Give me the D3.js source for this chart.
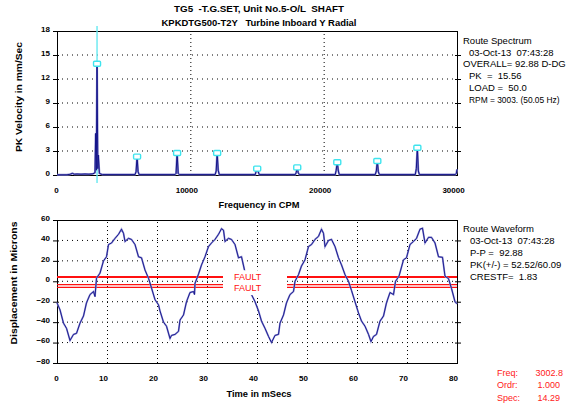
<!DOCTYPE html>
<html>
<head>
<meta charset="utf-8">
<script src="https://cdn.jsdelivr.net/npm/d3@7"></script>
<style>
  body { margin: 0; background: #fff; }
  text { font-family: "Liberation Sans", Arial, sans-serif; }
</style>
</head>
<body>
<div id="target"></div>
<script>
// ---- data ----
const titleLines = ['TG5  -T.G.SET, Unit No.5-O/L  SHAFT', 'KPKDTG500-T2Y   Turbine Inboard Y Radial'];

const specTicksY = [0, 3, 6, 9, 12, 15, 18];
const specTicksX = [0, 10000, 20000, 30000];
const specCpm = [0, 750, 1000, 1150, 1300, 1500, 1800, 2100, 2400, 2700, 2850, 2900, 2950, 3003, 3060, 3100, 3180, 3400,
  5850, 5930, 6006, 6080, 6160,
  8850, 8930, 9009, 9090, 9170,
  11860, 11940, 12012, 12090, 12170,
  14870, 14940, 15015, 15090, 15170,
  17870, 17940, 18018, 18090, 18170,
  20870, 20940, 21021, 21100, 21170,
  23870, 23950, 24024, 24100, 24180,
  26870, 26950, 27027, 27100, 27180,
  29870, 29950, 30000];
const specAmp = [0.02, 0.02, 0.1, 0.2, 0.1, 0.12, 0.1, 0.12, 0.1, 0.15, 0.3, 5.2, 0.6, 13.9, 0.8, 2.5, 0.2, 0.05,
  0.05, 0.4, 2.3, 0.4, 0.05,
  0.05, 0.2, 2.75, 0.2, 0.05,
  0.05, 0.5, 2.75, 0.6, 0.05,
  0.05, 0.5, 0.8, 0.4, 0.05,
  0.05, 0.3, 0.95, 0.3, 0.05,
  0.05, 0.6, 1.6, 0.5, 0.05,
  0.05, 0.5, 1.75, 0.4, 0.05,
  0.05, 0.8, 3.4, 0.5, 0.05,
  0.05, 0.2, 0.7];
const peakCpm = [3003, 6006, 9009, 12012, 15015, 18018, 21021, 24024, 27027];
const peakAmp = [13.9, 2.3, 2.75, 2.75, 0.8, 0.95, 1.6, 1.75, 3.4];
const cursorCpm = 3002.8;

const waveTicksY = [-80, -60, -40, -20, 0, 20, 40, 60];
const waveTicksX = [0, 10, 20, 30, 40, 50, 60, 70, 80];
const waveTime = [0, 0.6, 1.3, 1.9, 2.6, 3.3, 3.9, 4.6, 5.3, 5.9, 6.6, 7.3, 7.6, 7.9, 8.6, 9.3, 9.9, 10.3, 10.9, 11.6,
  12.3, 12.9, 13.3, 13.6, 14.3, 14.9, 15.6, 16.3, 16.9, 17.6, 18.3, 18.9, 19.6,
  20.3, 20.6, 21.3, 21.9, 22.6, 22.9, 23.6, 24.3, 24.6, 25.3, 25.9, 26.6, 27.3, 27.5, 27.6, 28.3, 28.9, 29.6,
  30.3, 30.9, 31.6, 32.3, 32.9, 33.3, 33.6, 34.3, 34.9, 35.6, 36.3, 36.9, 37.5, 38.2, 38.9, 39.6,
  40.3, 40.9, 41.6, 42.3, 42.9, 43.6, 44.3, 44.6, 45.3, 45.9, 46.6, 47.3, 47.6, 48.3, 48.9, 49.6,
  50.3, 50.9, 51.6, 52.3, 52.9, 53.3, 53.6, 54.3, 54.9, 55.6, 56.3, 56.9, 57.6, 58.3, 58.9, 59.6,
  60.3, 60.9, 61.6, 62.3, 62.8, 63.3, 63.9, 64.6, 65.3, 65.9, 66.6, 67.3, 67.7, 68.4, 69.3, 69.9,
  70.6, 71.3, 71.9, 72.6, 73.1, 73.6, 74.3, 74.9, 75.6, 76.3, 77.1, 77.6, 78.3, 78.9, 79.6, 80];
const waveDisp = [-21, -28, -41, -46, -58, -52, -51, -41, -34, -21, -13, -10, -15, 3, 8, 20, 24, 36, 37.5, 42,
  46, 51, 47, 39, 42, 41, 36, 24, 23, 11, 3, -6.5, -18,
  -23, -29, -40, -44, -56, -53, -52, -49, -38, -33, -20, -11, -10, -13, -2, 7, 16, 24,
  34, 37.5, 41, 46, 51.5, 50, 39, 42, 41, 36, 23, 24, 11, 0, -13, -20,
  -29, -39, -46, -54, -60, -53, -52, -41, -33, -21, -13, -10, 0, 6.5, 15, 21,
  34, 36, 41, 44, 51, 47, 34, 40, 41, 34, 23, 16, 6.5, 0, -9, -20,
  -31, -39, -44, -52, -59, -54, -52, -39, -34, -21, -11, -13, 0, 5, 21, 23,
  36, 39, 42, 51, 52, 37.5, 43, 43, 37.5, 24, 23.5, 5, 2.6, -7, -20, -22];
const faultUpper = [4.2];
const faultLower = [-3.3, -6.0];
const faultBox = [33.2, 46];

const specInfo = ['Route Spectrum', '03-Oct-13  07:43:28', 'OVERALL= 92.88 D-DG', 'PK  =  15.56', 'LOAD =  50.0', 'RPM = 3003. (50.05 Hz)'];
const specIndent = [0, 1, 0, 1, 1, 1];
const waveInfo = ['Route Waveform', '03-Oct-13  07:43:28', 'P-P =  92.88', 'PK(+/-) = 52.52/60.09', 'CRESTF=  1.83'];
const waveIndent = [0, 1, 1, 1, 1];
const cursorNames = ['Freq:', 'Ordr:', 'Spec:'];
const cursorValues = ['3002.8', '1.000', '14.29'];

// ---- layout ----
const width = 567;
const height = 403;

const svg = d3.select('#target')
  .append('svg')
  .attr('width', width)
  .attr('height', height);

const xF = d3.scaleLinear().domain([0, 30000]).range([57, 457]);
const yF = d3.scaleLinear().domain([0, 18]).range([175, 31]);
const xT = d3.scaleLinear().domain([0, 80]).range([57, 457]);
const yT = d3.scaleLinear().domain([-80, 60]).range([363, 220]);

svg.selectAll('.title')
  .data(titleLines)
  .enter()
  .append('text')
  .attr('class', 'title')
  .attr('x', 259)
  .attr('y', (d, i) => 12 + i * 14)
  .attr('text-anchor', 'middle')
  .attr('font-size', 8.5)
  .attr('font-weight', 'bold')
  .attr('textLength', (d, i) => i === 0 ? 170 : 195)
  .attr('lengthAdjust', 'spacingAndGlyphs')
  .attr('xml:space', 'preserve')
  .text((d) => d);

function grid(g, x, y, xs, ys) {
  const [x0, x1] = x.range();
  const [y0, y1] = y.range();
  g.selectAll('.hgrid')
    .data(ys.slice(1, -1))
    .enter()
    .append('line')
    .attr('x1', x0).attr('x2', x1)
    .attr('y1', (d) => y(d)).attr('y2', (d) => y(d))
    .attr('stroke', '#000')
    .attr('stroke-dasharray', '1,4');
  g.selectAll('.vgrid')
    .data(xs.slice(1, -1))
    .enter()
    .append('line')
    .attr('x1', (d) => x(d) + 0.5).attr('x2', (d) => x(d) + 0.5)
    .attr('y1', y0).attr('y2', y1)
    .attr('stroke', '#000')
    .attr('stroke-dasharray', '1,3');
}

function axes(g, x, y, xs, ys, fmt) {
  const [x0, x1] = x.range();
  const [y0, y1] = y.range();
  const left = g.append('g')
    .attr('transform', `translate(${x0},0)`)
    .call(d3.axisLeft(y).tickValues(ys).tickSizeInner(4).tickSizeOuter(0).tickPadding(3));
  const right = g.append('g')
    .attr('transform', `translate(${x1},0)`)
    .call(d3.axisRight(y).tickValues(ys.slice(1, -1)).tickSizeInner(4).tickSizeOuter(0).tickFormat(''));
  const bottom = g.append('g')
    .attr('transform', `translate(0,${y0})`)
    .call(d3.axisBottom(x).tickValues(xs).tickSize(0).tickPadding(12).tickFormat(fmt));
  [left, right, bottom].forEach((a) => {
    a.select('.domain').remove();
    a.selectAll('text')
      .attr('font-family', '"Liberation Sans", Arial, sans-serif')
      .attr('font-size', 8)
      .attr('font-weight', 'bold')
      .attr('fill', '#000');
  });
  left.selectAll('text').attr('dy', '0.05em');
  left.selectAll('line').attr('x2', -4).attr('x1', 2);
  right.selectAll('line').attr('x1', -2);
  bottom.selectAll('text').attr('dx', (d) => d === 0 ? -1 : -4);
  g.append('rect')
    .attr('x', x0 + 0.5).attr('y', y1 + 0.5)
    .attr('width', x1 - x0).attr('height', y0 - y1)
    .attr('fill', 'none')
    .attr('stroke', '#000');
}

// ---- spectrum ----
const specG = svg.append('g');
grid(specG, xF, yF, specTicksX, specTicksY);
axes(specG, xF, yF, specTicksX, specTicksY, d3.format('d'));

specG.append('line')
  .attr('x1', xF(cursorCpm)).attr('x2', xF(cursorCpm))
  .attr('y1', 26).attr('y2', 183)
  .attr('stroke', '#66e8f0')
  .attr('stroke-width', 1.4);

const spectrum = specCpm.map((c, i) => [c, specAmp[i]]);
const specLine = d3.line()
  .x((d) => xF(d[0]))
  .y((d) => yF(d[1]));

specG.append('path')
  .datum(spectrum)
  .attr('d', specLine)
  .attr('fill', 'none')
  .attr('stroke', '#8888cc')
  .attr('stroke-width', 2);
specG.append('path')
  .datum(spectrum)
  .attr('d', specLine)
  .attr('fill', 'none')
  .attr('stroke', '#14148a')
  .attr('stroke-width', 1);

specG.selectAll('.peak')
  .data(peakCpm)
  .enter()
  .append('rect')
  .attr('class', 'peak')
  .attr('x', (d) => xF(d) - 3.5)
  .attr('y', (d, i) => yF(peakAmp[i]) - 2.5)
  .attr('width', 7)
  .attr('height', 5)
  .attr('rx', 1)
  .attr('fill', '#fff')
  .attr('stroke', '#3ee4ee')
  .attr('stroke-width', 1.4);

specG.append('text')
  .attr('x', 259).attr('y', 208)
  .attr('text-anchor', 'middle')
  .attr('font-size', 9)
  .attr('font-weight', 'bold')
  .attr('textLength', 81)
  .attr('lengthAdjust', 'spacingAndGlyphs')
  .text('Frequency in CPM');

specG.append('text')
  .attr('transform', 'translate(18,97) rotate(-90)')
  .attr('text-anchor', 'middle')
  .attr('dominant-baseline', 'central')
  .attr('font-size', 9.5)
  .attr('font-weight', 'bold')
  .attr('textLength', 110)
  .attr('lengthAdjust', 'spacingAndGlyphs')
  .text('PK Velocity in mm/Sec');

// ---- waveform ----
const waveG = svg.append('g');
grid(waveG, xT, yT, waveTicksX, waveTicksY);
axes(waveG, xT, yT, waveTicksX, waveTicksY, d3.format('d'));

const faults = waveG.append('g');
faults.selectAll('.fu')
  .data(faultUpper)
  .enter()
  .append('line')
  .attr('x1', xT(0)).attr('x2', xT(80))
  .attr('y1', (d) => yT(d)).attr('y2', (d) => yT(d))
  .attr('stroke', '#ff1010')
  .attr('stroke-width', 2);
faults.selectAll('.fl')
  .data(faultLower)
  .enter()
  .append('line')
  .attr('x1', xT(0)).attr('x2', xT(80))
  .attr('y1', (d) => yT(d)).attr('y2', (d) => yT(d))
  .attr('stroke', '#ff1010')
  .attr('stroke-width', 1.2);

const wave = waveTime.map((t, i) => [t, waveDisp[i]]);
const waveLine = d3.line()
  .x((d) => xT(d[0]))
  .y((d) => yT(d[1]));

waveG.append('path')
  .datum(wave)
  .attr('d', waveLine)
  .attr('fill', 'none')
  .attr('stroke', '#9393d4')
  .attr('stroke-width', 1.8);
waveG.append('path')
  .datum(wave)
  .attr('d', waveLine)
  .attr('fill', 'none')
  .attr('stroke', '#12128a')
  .attr('stroke-width', 0.9);

waveG.append('rect')
  .attr('x', xT(faultBox[0]))
  .attr('y', yT(10.8))
  .attr('width', xT(faultBox[1]) - xT(faultBox[0]))
  .attr('height', yT(-13.5) - yT(10.8))
  .attr('fill', '#fff');

waveG.selectAll('.ftext')
  .data([faultUpper[0], faultLower[1]])
  .enter()
  .append('text')
  .attr('x', xT(35.4))
  .attr('y', (d) => yT(d) + 3.5)
  .attr('font-size', 9)
  .attr('fill', '#ff1010')
  .text('FAULT');

waveG.append('text')
  .attr('x', 259).attr('y', 397)
  .attr('text-anchor', 'middle')
  .attr('font-size', 9)
  .attr('font-weight', 'bold')
  .attr('textLength', 65)
  .attr('lengthAdjust', 'spacingAndGlyphs')
  .text('Time in mSecs');

waveG.append('text')
  .attr('transform', 'translate(13,283) rotate(-90)')
  .attr('text-anchor', 'middle')
  .attr('dominant-baseline', 'central')
  .attr('font-size', 9.5)
  .attr('font-weight', 'bold')
  .attr('textLength', 123)
  .attr('lengthAdjust', 'spacingAndGlyphs')
  .text('Displacement in Microns');

// ---- info panels ----
svg.selectAll('.sinfo')
  .data(specInfo)
  .enter()
  .append('text')
  .attr('x', (d, i) => 463 + specIndent[i] * 6)
  .attr('y', (d, i) => 44 + i * 11.7)
  .attr('font-size', (d, i) => i === specInfo.length - 1 ? 8.4 : 9.5)
  .attr('xml:space', 'preserve')
  .text((d) => d);

svg.selectAll('.winfo')
  .data(waveInfo)
  .enter()
  .append('text')
  .attr('x', (d, i) => 463 + waveIndent[i] * 7)
  .attr('y', (d, i) => 231.5 + i * 12.2)
  .attr('font-size', 9.5)
  .attr('xml:space', 'preserve')
  .text((d) => d);

const cursorInfo = svg.append('g').attr('fill', '#ff2020').attr('font-size', 9);
cursorInfo.selectAll('.cname')
  .data(cursorNames)
  .enter()
  .append('text')
  .attr('x', 497)
  .attr('y', (d, i) => 375.5 + i * 12.5)
  .text((d) => d);
cursorInfo.selectAll('.cval')
  .data(cursorValues)
  .enter()
  .append('text')
  .attr('x', (d, i) => i === 0 ? 563 : 560)
  .attr('y', (d, i) => 375.5 + i * 12.5)
  .attr('text-anchor', 'end')
  .text((d) => d);
</script>
</body>
</html>
